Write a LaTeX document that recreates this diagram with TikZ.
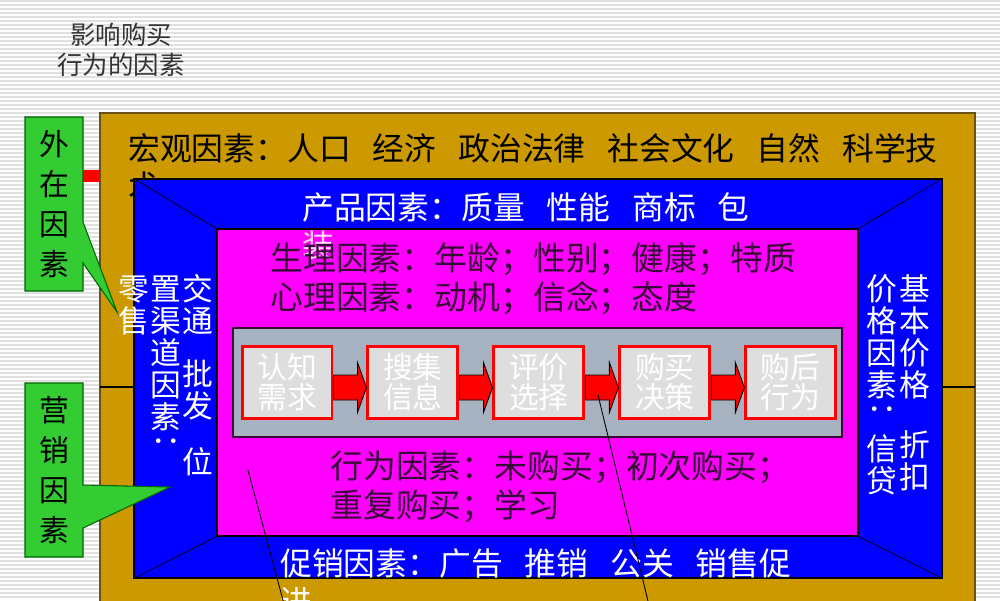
\documentclass[tikz,border=0pt]{standalone}
\usepackage{fontspec}
\newfontfamily\cjk{Noto Sans CJK SC}
\usepackage{tikz}
\usetikzlibrary{positioning, calc, fit}
\definecolor{gold}{RGB}{204,153,0}
\definecolor{goldline}{RGB}{105,80,20}
\definecolor{panelblue}{RGB}{0,0,255}
\definecolor{panelpink}{RGB}{255,0,255}
\definecolor{slate}{RGB}{166,178,192}
\definecolor{calloutgreen}{RGB}{51,204,51}
\definecolor{darkplum}{RGB}{55,10,55}
\definecolor{stepfill}{RGB}{222,222,222}
\newcommand{\gap}{\hspace{0.69em}}
\newcommand{\flow}[2]{\filldraw[flow] ($(#1.east)+(0,-7.5)$) -- ($(#2.west)+(-9,-7.5)$) -- ($(#2.west)+(-9,-20)$) -- ($(#2.west)+(0,5)$) -- ($(#2.west)+(-9,30)$) -- ($(#2.west)+(-9,17.5)$) -- ($(#1.east)+(0,17.5)$) -- cycle;}

\begin{document}
\begin{tikzpicture}[x=0.02cm, y=-0.02cm]
	% Define styles
	\tikzset{
		panel/.style={inner sep=0pt, draw=black, line width=0.6pt},
		bigtext/.style={font=\cjk\fontsize{18.1}{22}\selectfont, inner sep=0pt, anchor=base west},
		pinktext/.style={font=\cjk\fontsize{18.7}{22}\selectfont, text=darkplum, inner sep=0pt, anchor=base west},
		vtext/.style={font=\cjk\fontsize{17.5}{18}\selectfont, text=white, inner sep=0pt, anchor=base},
		vcolon/.style={font=\cjk\fontsize{17.5}{18}\selectfont, text=white, inner sep=0pt, anchor=center, rotate=-90},
		stepbox/.style={rectangle, draw=red, line width=1.7pt, fill=stepfill, minimum width=1.8cm, minimum height=1.44cm, text=white, align=center, font=\cjk\fontsize{17}{17}\selectfont, inner sep=0pt},
		flow/.style={fill=red, draw=black, line width=0.5pt},
		callout/.style={fill=calloutgreen, draw=black!60!green, line width=0.6pt},
		tag/.style={font=\cjk\fontsize{17}{22.7}\selectfont, align=center, inner sep=0pt},
		lead/.style={draw=black, line width=0.5pt}
	}
	\useasboundingbox (0,0) rectangle (1000,600);
	\clip (0,0) rectangle (1000,600);
	% Background
	\fill[white] (0,0) rectangle (1000,600);
	\foreach \y in {1,5,...,600} \draw[black!12, line width=0.6pt] (0,\y) -- (1000,\y);
	\node[font=\cjk\fontsize{14.5}{17}\selectfont, text=black!80, align=center] (title) at (121,50) {影响购买\\行为的因素};
	
	% Panels
	\fill[red] (83,170) rectangle (100,182);
	\node[panel, fill=gold, draw=goldline, fit={(100,113) (975,640)}] (macro) {};
	\draw[black, line width=0.6pt] (100,387) -- (975,387);
	\node[bigtext] (macro1) at (128,160) {宏观因素：人口\gap 经济\gap 政治法律\gap 社会文化\gap 自然\gap 科学技};
	\node[bigtext, below=22pt of macro1.base west, anchor=base west] (macro2) {术};
	\node[panel, fill=panelblue, fit={(134,179) (942,578)}] (product) {};
	\node[panel, fill=panelpink, fit={(217,229) (858,536)}] (person) {};
	\draw (product.north west) -- (person.north west);
	\draw (product.north east) -- (person.north east);
	\draw (product.south west) -- (person.south west);
	\draw (product.south east) -- (person.south east);
	
	% Blue texts
	\node[bigtext, text=white] (prod1) at (302,219) {产品因素：质量\gap 性能\gap 商标\gap 包};
	\node[bigtext, text=white!85!panelpink, below=22pt of prod1.base west, anchor=base west] (prod2) {装};
	\node[bigtext, text=white] (promo1) at (280,575) {促销因素：广告\gap 推销\gap 公关\gap 销售促};
	\node[bigtext, text=white, below=22pt of promo1.base west, anchor=base west] (promo2) {进};
	\foreach \c/\x/\y [count=\i] in {零/134/289, 售/134/321, 置/166/289, 渠/166/321, 道/166/353, 因/166/385, 素/166/417, 交/198/289, 通/198/321, 批/198/374, 发/198/406, 位/198/462}
		\node[vtext] (place\i) at (\x,\y+11) {\c};
	\node[vcolon] (placecolon) at (166,449) {：};
	\foreach \c/\x/\y [count=\i] in {价/882/289, 格/882/321, 因/882/353, 素/882/385, 信/882/449, 贷/882/481, 基/915/289, 本/915/321, 价/915/353, 格/915/385, 折/915/445, 扣/915/477}
		\node[vtext] (price\i) at (\x,\y+11) {\c};
	\node[vcolon] (pricecolon) at (882,417) {：};
	
	% Pink texts
	\node[pinktext] (body) at (270,270.5) {生理因素：年龄；性别；健康；特质};
	\node[pinktext, below=22pt of body.base west, anchor=base west] (mind) {心理因素：动机；信念；态度};
	\node[pinktext] (habit1) at (330,478.5) {行为因素：未购买；初次购买；};
	\node[pinktext, below=22pt of habit1.base west, anchor=base west] (habit2) {重复购买；学习};
	
	% Process
	\node[panel, fill=slate, draw=darkplum, fit={(233,328) (842,437)}] (process) {};
	\node[stepbox] (s1) at (287,382.5) {认知\\需求};
	\node[stepbox, right=0.66cm of s1] (s2) {搜集\\信息};
	\node[stepbox, right=0.66cm of s2] (s3) {评价\\选择};
	\node[stepbox, right=0.66cm of s3] (s4) {购买\\决策};
	\node[stepbox, right=0.66cm of s4] (s5) {购后\\行为};
	
	% Arrows
	\flow{s1}{s2}
	\flow{s2}{s3}
	\flow{s3}{s4}
	\flow{s4}{s5}
	
	\coordinate (lead1) at (248,470);
	\coordinate (lead1end) at (291,630);
	\coordinate (lead2) at (598,395);
	\coordinate (lead2end) at (655,630);
	\draw[lead] (lead1) -- (lead1end);
	\draw[lead] (lead2) -- (lead2end);
	
	% Callouts
	\filldraw[callout] (25,117) -- (83,117) -- (83,222) -- (117,312) -- (83,263) -- (83,291) -- (25,291) -- cycle;
	\node[tag] (outer) at (54,204) {外\\在\\因\\素};
	\filldraw[callout] (25,383) -- (83,383) -- (83,485) -- (170,487) -- (83,528) -- (83,557) -- (25,557) -- cycle;
	\node[tag] (market) at (54,470) {营\\销\\因\\素};
\end{tikzpicture}
\end{document}
